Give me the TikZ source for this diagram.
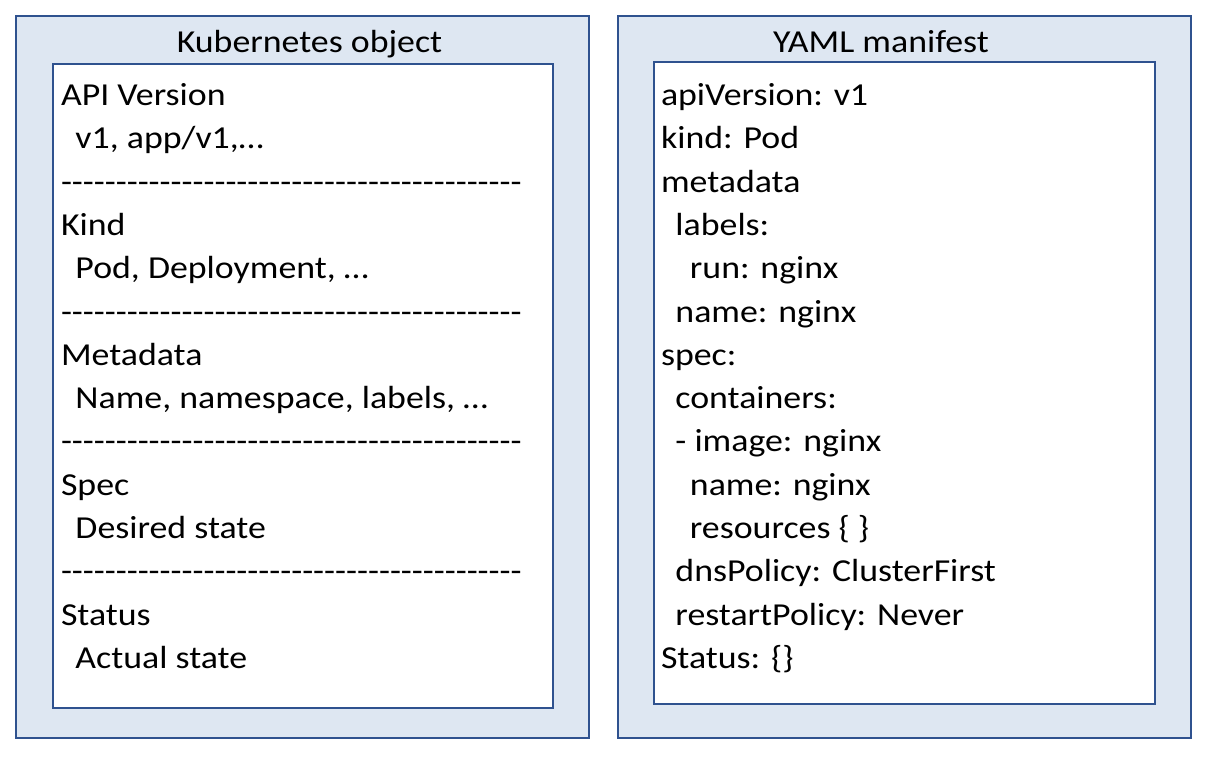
\documentclass[tikz,border=0pt]{standalone}
\usepackage{fontspec}
\setmainfont{Carlito}[FakeStretch=1.12]
\definecolor{fillblue}{HTML}{DEE7F2}
\definecolor{edgeblue}{HTML}{2F528F}
\newcommand\hyph{-{}}
\newcommand\tenhyph{\hyph\hyph\hyph\hyph\hyph\hyph\hyph\hyph\hyph\hyph}
\newcommand\dashrow{\tenhyph\tenhyph\tenhyph\tenhyph\hyph\hyph}
\newcommand\ind{\hspace*{0.452em}}
\newcommand\indd{\hspace*{0.904em}}
\begin{document}
\begin{tikzpicture}[x=1pt,y=-1pt,
  outerbox/.style={draw=edgeblue, fill=fillblue, line width=2.2pt, inner sep=0pt, outer sep=0pt},
  innerbox/.style={draw=edgeblue, fill=white, line width=2.2pt, inner sep=0pt, outer sep=0pt},
  txt/.style={anchor=base west, inner sep=0pt, outer sep=0pt, font=\fontsize{32}{38}\selectfont},
  titletxt/.style={anchor=base, inner sep=0pt, outer sep=0pt, font=\fontsize{32}{38}\selectfont}]
\useasboundingbox (0,0) rectangle (1208,758);
% boxes
\node[outerbox, minimum width=573pt, minimum height=722pt] (louter) at (302.5,377) {};
\node[innerbox, minimum width=500pt, minimum height=644pt] (linner) at (303,386) {};
\node[outerbox, minimum width=573pt, minimum height=722pt] (router) at (904.5,377) {};
\node[innerbox, minimum width=501pt, minimum height=642pt] (rinner) at (904.5,383) {};
% titles
\node[titletxt] (ltitle) at (309.5,52) {Kubernetes object};
\node[titletxt] (rtitle) at (881,52) {YAML manifest};
% left column
\def\lx{61}
\node[txt] (l0) at (\lx,{105.7+43.28*0}) {API Version};
\node[txt] (l1) at (\lx,{105.7+43.28*1}) {\ind v1, app/v1,…};
\node[txt] (l2) at (\lx,{105.7+43.28*2}) {\dashrow};
\node[txt] (l3) at (\lx,{105.7+43.28*3}) {Kind};
\node[txt] (l4) at (\lx,{105.7+43.28*4}) {\ind Pod, Deployment, …};
\node[txt] (l5) at (\lx,{105.7+43.28*5}) {\dashrow};
\node[txt] (l6) at (\lx,{105.7+43.28*6}) {Metadata};
\node[txt] (l7) at (\lx,{105.7+43.28*7}) {\ind Name, namespace, labels, …};
\node[txt] (l8) at (\lx,{105.7+43.28*8}) {\dashrow};
\node[txt] (l9) at (\lx,{105.7+43.28*9}) {Spec};
\node[txt] (l10) at (\lx,{105.7+43.28*10}) {\ind Desired state};
\node[txt] (l11) at (\lx,{105.7+43.28*11}) {\dashrow};
\node[txt] (l12) at (\lx,{105.7+43.28*12}) {Status};
\node[txt] (l13) at (\lx,{105.7+43.28*13}) {\ind Actual state};
% right column
\def\rx{661}
\node[txt] (r0) at (\rx,{105.7+43.28*0}) {apiVersion: v1};
\node[txt] (r1) at (\rx,{105.7+43.28*1}) {kind: Pod};
\node[txt] (r2) at (\rx,{105.7+43.28*2}) {metadata};
\node[txt] (r3) at (\rx,{105.7+43.28*3}) {\ind labels:};
\node[txt] (r4) at (\rx,{105.7+43.28*4}) {\indd run: nginx};
\node[txt] (r5) at (\rx,{105.7+43.28*5}) {\ind name: nginx};
\node[txt] (r6) at (\rx,{105.7+43.28*6}) {spec:};
\node[txt] (r7) at (\rx,{105.7+43.28*7}) {\ind containers:};
\node[txt] (r8) at (\rx,{105.7+43.28*8}) {\ind - image: nginx};
\node[txt] (r9) at (\rx,{105.7+43.28*9}) {\indd name: nginx};
\node[txt] (r10) at (\rx,{105.7+43.28*10}) {\indd resources \{ \}};
\node[txt] (r11) at (\rx,{105.7+43.28*11}) {\ind dnsPolicy: ClusterFirst};
\node[txt] (r12) at (\rx,{105.7+43.28*12}) {\ind restartPolicy: Never};
\node[txt] (r13) at (\rx,{105.7+43.28*13}) {Status: \{\}};
\end{tikzpicture}
\end{document}
